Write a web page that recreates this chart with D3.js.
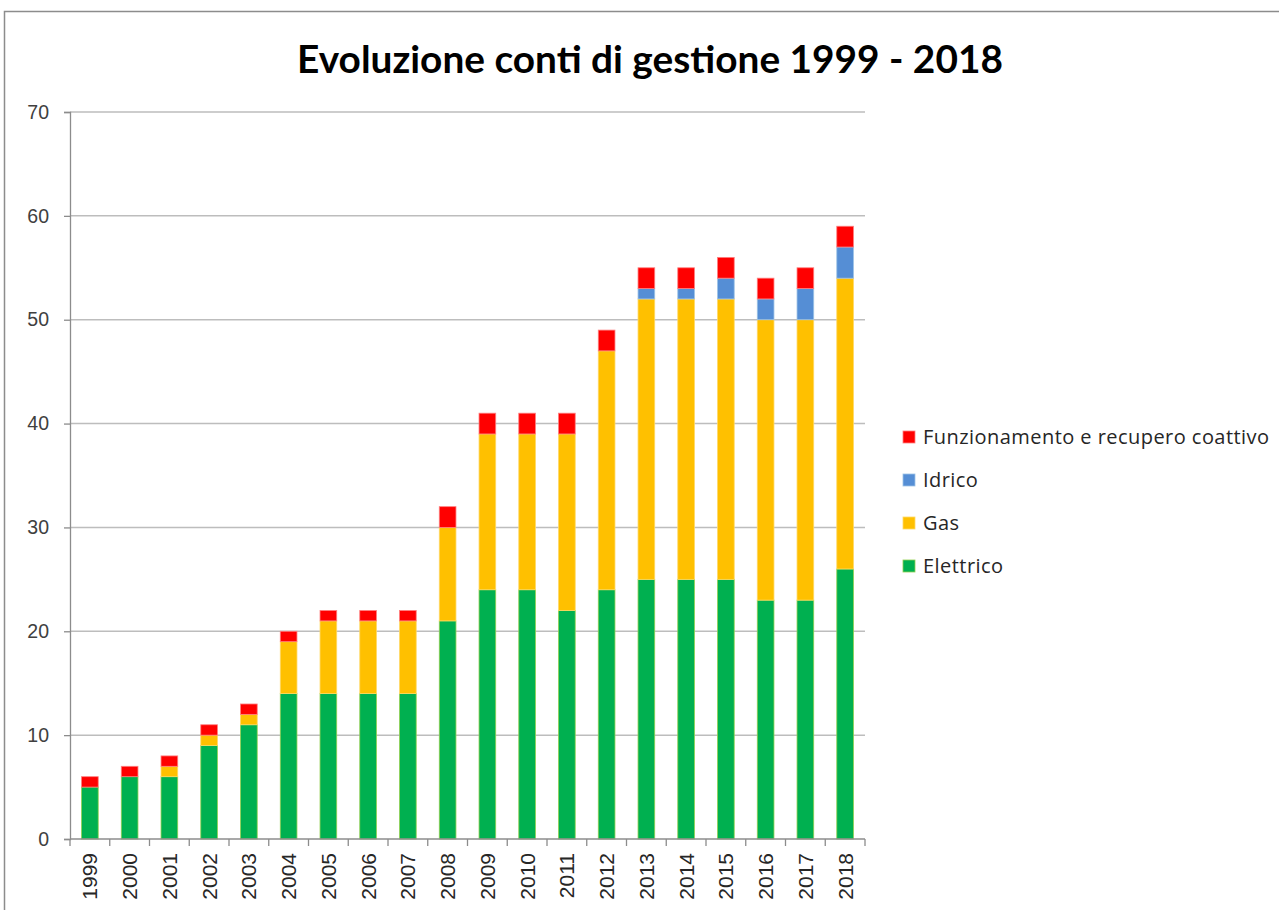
<!DOCTYPE html>
<html>
<head>
<meta charset="utf-8">
<script src="https://cdn.jsdelivr.net/npm/d3@7"></script>
<style>
  html, body { margin: 0; padding: 0; background: #fff; }
  svg { display: block; }
</style>
</head>
<body>
<svg id="chart" width="1279" height="910"></svg>
<script>
// Years on the category axis
const years = ["1999","2000","2001","2002","2003","2004","2005","2006","2007","2008",
               "2009","2010","2011","2012","2013","2014","2015","2016","2017","2018"];

// Stacked series, bottom to top
const elettrico     = [5, 6, 6, 9, 11, 14, 14, 14, 14, 21, 24, 24, 22, 24, 25, 25, 25, 23, 23, 26];
const gas           = [0, 0, 1, 1, 1, 5, 7, 7, 7, 9, 15, 15, 17, 23, 27, 27, 27, 27, 27, 28];
const idrico        = [0, 0, 0, 0, 0, 0, 0, 0, 0, 0, 0, 0, 0, 0, 1, 1, 2, 2, 3, 3];
const funzionamento = [1, 1, 1, 1, 1, 1, 1, 1, 1, 2, 2, 2, 2, 2, 2, 2, 2, 2, 2, 2];

const seriesNames = ["Elettrico", "Gas", "Idrico", "Funzionamento e recupero coattivo"];
const seriesColors = ["#00B050", "#FFC000", "#558ED5", "#FF0000"];
const seriesEdges  = ["#92D050", "#FFD966", "#9DC3E6", "#FF7F7F"];

const yTicks = [0, 10, 20, 30, 40, 50, 60, 70];
const titleText = "Evoluzione conti di gestione 1999 - 2018";

const svg = d3.select("#chart");
const titleFont = "Lato, 'Open Sans', sans-serif";
const axisFont = "'Liberation Sans', Arial, sans-serif";
const legendFont = "'Open Sans', sans-serif";

// Chart frame
svg.append("rect")
  .attr("x", 4.5).attr("y", 11.5)
  .attr("width", 1400).attr("height", 1000)
  .attr("fill", "#fff").attr("stroke", "#8c8c8c").attr("stroke-width", 1.5);

const plot = { left: 70, right: 865, top: 112, bottom: 839 };

const x = d3.scaleBand().domain(years).range([plot.left, plot.right]).paddingInner(0.58).paddingOuter(0.29);
const y = d3.scaleLinear().domain([0, 70]).range([plot.bottom, plot.top]);

// Horizontal gridlines
svg.append("g").selectAll("line").data(yTicks.filter(d => d > 0)).join("line")
  .attr("x1", plot.left).attr("x2", plot.right)
  .attr("y1", d => y(d)).attr("y2", d => y(d))
  .attr("stroke", "#bdbdbd").attr("stroke-width", 1.5);

// Stacked bars
const rows = years.map((yr, i) => ({
  year: yr,
  s0: elettrico[i], s1: gas[i], s2: idrico[i], s3: funzionamento[i]
}));
const stack = d3.stack().keys(["s0", "s1", "s2", "s3"]);
const layers = stack(rows);

svg.append("g").selectAll("g").data(layers).join("g")
  .attr("fill", (d, i) => seriesColors[i])
  .attr("stroke", (d, i) => seriesEdges[i])
  .attr("stroke-width", 0.8)
  .selectAll("rect").data(d => d.filter(p => p[1] > p[0])).join("rect")
  .attr("x", d => x(d.data.year))
  .attr("width", x.bandwidth())
  .attr("y", d => y(d[1]))
  .attr("height", d => y(d[0]) - y(d[1]));

// Y axis
const yAxis = d3.axisLeft(y).tickValues(yTicks).tickSize(6).tickPadding(15);
const yg = svg.append("g").attr("transform", `translate(${plot.left},0)`).call(yAxis);
yg.select(".domain").attr("stroke", "#8c8c8c").attr("stroke-width", 1.3);
yg.selectAll(".tick line").attr("stroke", "#8c8c8c").attr("stroke-width", 1.3);
yg.selectAll(".tick text").attr("font-family", axisFont).attr("font-size", 19.5).attr("fill", "#404040");

// X axis: ticks at category boundaries
svg.append("line")
  .attr("x1", plot.left).attr("x2", plot.right)
  .attr("y1", plot.bottom).attr("y2", plot.bottom)
  .attr("stroke", "#8c8c8c").attr("stroke-width", 1.3);
const step = x.step();
const boundaries = years.map(yr => x(yr) + x.bandwidth() / 2 - step / 2);
boundaries.push(x(years[years.length - 1]) + x.bandwidth() / 2 + step / 2);
svg.append("g").selectAll("line").data(boundaries).join("line")
  .attr("x1", d => d).attr("x2", d => d)
  .attr("y1", plot.bottom).attr("y2", plot.bottom + 7)
  .attr("stroke", "#8c8c8c").attr("stroke-width", 1.3);

svg.append("g").selectAll("text").data(years).join("text")
  .attr("transform", d => `translate(${x(d) + x.bandwidth() / 2 + 7.5},${plot.bottom + 14}) rotate(-90)`)
  .attr("text-anchor", "end")
  .attr("font-family", axisFont).attr("font-size", 21).attr("fill", "#262626")
  .text(d => d);

// Title, scaled to its target width
const title = svg.append("text")
  .attr("x", 650).attr("y", 73)
  .attr("text-anchor", "middle")
  .attr("font-family", titleFont).attr("font-weight", "bold").attr("font-size", 34)
  .attr("fill", "#000")
  .text(titleText);
const tw = title.node().getComputedTextLength();
title.attr("font-size", 34 * 706 / tw);

// Legend, top entry is the top of the stack
const legendOrder = [3, 2, 1, 0];
const lg = svg.append("g").selectAll("g").data(legendOrder).join("g")
  .attr("transform", (d, i) => `translate(903,${437 + i * 43})`);
lg.append("rect")
  .attr("x", 0).attr("y", -6).attr("width", 12).attr("height", 12)
  .attr("fill", d => seriesColors[d]).attr("stroke", d => seriesEdges[d]).attr("stroke-width", 0.8);
lg.append("text")
  .attr("x", 20).attr("y", 0).attr("dy", "0.35em")
  .attr("font-family", legendFont).attr("font-size", 20).attr("letter-spacing", 0.45)
  .attr("fill", "#262626")
  .text(d => seriesNames[d]);
</script>
</body>
</html>
